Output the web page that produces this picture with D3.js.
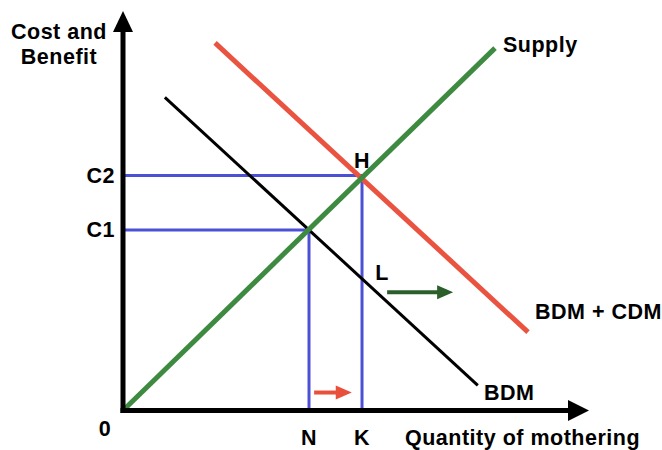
<!DOCTYPE html>
<html><head><meta charset="utf-8">
<script src="https://cdn.jsdelivr.net/npm/d3@7"></script>
<style>body{margin:0;background:#fff}svg{display:block}text{font-family:"Liberation Sans",Arial,Helvetica,sans-serif;font-weight:bold;fill:#000;letter-spacing:0.5px}</style>
</head><body>
<svg id="c" width="662" height="450"></svg>
<script>
// Data (chart units 0-100 on both axes)
const supply = [[0, 0], [80, 90.7]];
const bdm = [[9.0, 78.4], [76.3, 6.3]];
const bdmCdm = [[19.8, 92], [87.1, 19.6]];
const quantities = [{label: "N", x: 40}, {label: "K", x: 51.4}];
const costs = [{label: "C1", y: 45.2}, {label: "C2", y: 58.8}];
const shiftArrows = [
  {x0: 41.1, x1: 49.2, y: 4.5, color: "#e8503b"},
  {x0: 56.8, x1: 71.0, y: 29.6, color: "#2c5e2c"}
];

const FS = 21.5;
const svg = d3.select("#c");
const x = d3.scaleLinear().domain([0, 100]).range([123, 588]);
const y = d3.scaleLinear().domain([0, 100]).range([410.5, 11]);
const line = d3.line().x(d => x(d[0])).y(d => y(d[1]));

// guide lines (blue)
const blue = "#4b50d4";
costs.forEach((c, i) => {
  const q = quantities[i];
  svg.append("line").attr("x1", x(0)).attr("x2", x(q.x)).attr("y1", y(c.y)).attr("y2", y(c.y))
    .attr("stroke", blue).attr("stroke-width", 3);
  svg.append("line").attr("x1", x(q.x)).attr("x2", x(q.x)).attr("y1", y(c.y) - 1.5).attr("y2", y(0))
    .attr("stroke", blue).attr("stroke-width", 3);
  svg.append("text").attr("x", x(0) - 8).attr("y", y(c.y)).attr("text-anchor", "end")
    .attr("dominant-baseline", "central").attr("font-size", FS).text(c.label);
});
quantities.forEach(q => {
  svg.append("text").attr("x", x(q.x)).attr("y", 438).attr("text-anchor", "middle")
    .attr("dominant-baseline", "central").attr("font-size", FS).text(q.label);
});

// curves
svg.append("path").attr("d", line(bdm)).attr("stroke", "#000").attr("stroke-width", 3).attr("fill", "none");
svg.append("path").attr("d", line(bdmCdm)).attr("stroke", "#e9533f").attr("stroke-width", 5).attr("fill", "none");
svg.append("path").attr("d", line(supply)).attr("stroke", "#3d8a40").attr("stroke-width", 5).attr("fill", "none");

// axes
svg.append("line").attr("x1", x(0)).attr("x2", x(0)).attr("y1", y(0) + 2.5).attr("y2", 30)
  .attr("stroke", "#000").attr("stroke-width", 5);
svg.append("path").attr("d", `M${x(0)-10},32 L${x(0)},11 L${x(0)+10},32 Z`).attr("fill", "#000");
svg.append("line").attr("x1", x(0) - 2.5).attr("x2", 570).attr("y1", y(0)).attr("y2", y(0))
  .attr("stroke", "#000").attr("stroke-width", 5);
svg.append("path").attr("d", `M568,${y(0)-10.5} L589,${y(0)} L568,${y(0)+10.5} Z`).attr("fill", "#000");

// shift arrows
shiftArrows.forEach(a => {
  const tx = x(a.x1), ty = y(a.y);
  svg.append("line").attr("x1", x(a.x0)).attr("x2", tx - 14).attr("y1", ty).attr("y2", ty)
    .attr("stroke", a.color).attr("stroke-width", 4);
  svg.append("path").attr("d", `M${tx-16},${ty-7} L${tx},${ty} L${tx-16},${ty+7} Z`).attr("fill", a.color);
});

// labels
const lab = (t, px, py, anchor) => svg.append("text").attr("x", px).attr("y", py)
  .attr("text-anchor", anchor || "start").attr("dominant-baseline", "central")
  .attr("font-size", FS).text(t);
lab("Cost and", 59, 32, "middle");
lab("Benefit", 59, 57, "middle");
lab("0", 105, 429, "middle");
lab("Supply", 503, 45);
lab("BDM", 484, 393);
lab("BDM + CDM", 535, 312);
lab("H", 362, 161, "middle");
lab("L", 382, 273, "middle");
lab("Quantity of mothering", 405, 438);
</script>
</body></html>
